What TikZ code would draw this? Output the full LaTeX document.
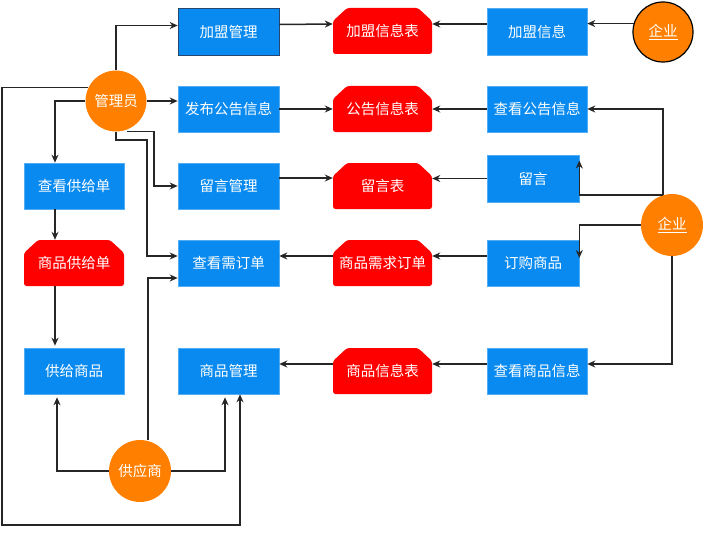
\documentclass[tikz,border=0pt]{standalone}
\usepackage{fontspec}
\newfontfamily\cjk{Noto Sans CJK SC}
\usetikzlibrary{arrows.meta,calc}
\definecolor{bluec}{RGB}{8,138,240}
\definecolor{redc}{RGB}{255,0,0}
\definecolor{orangec}{RGB}{255,128,0}
\definecolor{darkb}{RGB}{40,70,110}
\tikzset{
  every node/.style={font=\cjk\fontsize{14.5}{16}\selectfont, text=white, inner sep=0pt},
  bluebox/.style={fill=bluec, draw=bluec!70!white, line width=0.6pt, minimum width=100pt, minimum height=46pt},
  redtab/.style={minimum width=99pt, minimum height=46pt,
    path picture={\fill[redc, rounded corners=2.5pt]
      (path picture bounding box.south west)
      -- ([yshift=-13pt]path picture bounding box.north west)
      -- ([xshift=14pt]path picture bounding box.north west)
      -- ([xshift=-14pt]path picture bounding box.north east)
      -- ([yshift=-13pt]path picture bounding box.north east)
      -- (path picture bounding box.south east) -- cycle;}},
  actor/.style={circle, fill=orangec, minimum size=61pt},
  arr/.style={draw=black!85, line width=1.5pt, -{Stealth[length=8pt,width=7pt]}},
}
\begin{document}
\begin{tikzpicture}[x=1pt,y=-1pt]
\useasboundingbox (0,0) rectangle (703,532);
% blue boxes
\node[bluebox, draw=darkb, minimum width=101pt, minimum height=47pt] (jmgl) at (228.5,31.5) {加盟管理};
\node[bluebox, minimum width=101pt] (fbgg) at (228.5,109) {发布公告信息};
\node[bluebox, minimum width=101pt] (lygl) at (228.5,186) {留言管理};
\node[bluebox, minimum width=101pt] (ckxd) at (228.5,263) {查看需订单};
\node[bluebox, minimum width=101pt] (spgl) at (228.5,371) {商品管理};
\node[bluebox] (ckgjd) at (74,186) {查看供给单};
\node[bluebox] (gjsp) at (74,371) {供给商品};
\node[bluebox, minimum height=47pt] (jmxx) at (537,31.5) {加盟信息};
\node[bluebox] (ckgg) at (537,109) {查看公告信息};
\node[bluebox, minimum width=92pt, minimum height=47pt] (ly) at (533,178.5) {留言};
\node[bluebox, minimum width=92pt] (dgsp) at (533,263) {订购商品};
\node[bluebox] (ckspxx) at (537,371) {查看商品信息};
% red tables
\node[redtab] (jmb) at (382.5,31) {加盟信息表};
\node[redtab] (ggb) at (382.5,109) {公告信息表};
\node[redtab] (lyb) at (382.5,186) {留言表};
\node[redtab] (xqb) at (382.5,263) {商品需求订单};
\node[redtab] (spxxb) at (382.5,371) {商品信息表};
\node[redtab, minimum width=100pt] (sgjd) at (74,263) {商品供给单};
% actors
\node[actor] (gly) at (116,101) {管理员};
\node[actor, draw=black, line width=1.2pt, minimum size=60pt] (qy1) at (663,32) {\underline{企业}};
\node[actor, minimum size=62pt] (qy2) at (672,225) {\underline{企业}};
\node[actor, minimum size=62pt] (gys) at (140,471) {供应商};
% admin connectors
\draw[arr] (gly.north) |- ([yshift=6pt]jmgl.west);
\draw[arr] (gly.east) -- (gly.east -| fbgg.west);
\draw[arr] (gly.west) -| ([xshift=-19pt]ckgjd.north);
\coordinate (lb) at (2,525);
\draw[arr] (gly.154) -| (lb) -| ([xshift=11.5pt]spgl.south);
\draw[arr] ([xshift=11pt]gly.south) -- ++(27,0) |- (lygl.west);
\coordinate (gb) at (147,140);
\draw[arr] (gly.south) |- (gb) |- ([yshift=7pt]ckxd.west);
% supply chain
\draw[arr] ([xshift=-19pt]ckgjd.south) -- ([xshift=-19pt]sgjd.north);
\draw[arr] ([xshift=-19pt]sgjd.south) -- ([xshift=-19pt,yshift=2pt]gjsp.north);
\draw[arr] (gys.west) -| ([xshift=-17pt,yshift=-3pt]gjsp.south);
\draw[arr] ([xshift=8pt]gys.north) |- ([yshift=-15pt]ckxd.west);
\draw[arr] (gys.east) -| ([xshift=-3.5pt,yshift=-3pt]spgl.south);
% rows
\draw[arr] ([yshift=7pt]jmgl.east) -- ([yshift=7pt]jmb.west);
\draw[arr] (fbgg.east) -- (ggb.west);
\draw[arr] ([yshift=8pt]lygl.east) -- ([yshift=8pt]lyb.west);
\draw[arr] ([yshift=7.5pt]jmxx.west) -- ([yshift=7.5pt]jmxx.west -| jmb.east);
\draw[arr] (ckgg.west) -- (ggb.east);
\draw[arr] (ly.west) -- (ly.west -| lyb.east);
\draw[arr] ([yshift=7pt]xqb.west) -- ([yshift=7pt]ckxd.east);
\draw[arr] ([yshift=7pt]dgsp.west) -- ([yshift=7pt]xqb.east);
\draw[arr] ([yshift=7pt]ckspxx.west) -- ([yshift=7pt]spxxb.east);
\draw[arr] ([yshift=7pt]spxxb.west) -- ([yshift=7pt]spgl.east);
% enterprise connectors
\draw[arr] (qy1.164.5) -- (qy1.164.5 -| jmxx.east);
\draw[arr] (qy2.107) |- (ckgg.east);
\draw[arr] (qy2.107) -| ([yshift=18pt]ly.east);
\draw[arr] (qy2.west) -| ([yshift=5pt]dgsp.east);
\draw[arr] (qy2.south) |- ([yshift=7pt]ckspxx.east);
\end{tikzpicture}
\end{document}
